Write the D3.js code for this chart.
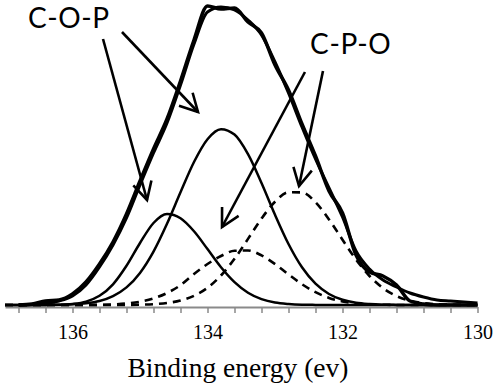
<!DOCTYPE html>
<html><head><meta charset="utf-8">
<script src="https://cdn.jsdelivr.net/npm/d3@7"></script>
<style>html,body{margin:0;padding:0;background:#fff;}svg{display:block;}
.serif{font-family:"Liberation Serif","DejaVu Serif","Times New Roman",Times,serif;}
.sans{font-family:Lato,"Open Sans","Noto Sans",sans-serif;}
</style>
</head><body>
<script>
// ---- data ----
const energy = [137.0,136.8,136.6,136.4,136.2,136.0,135.8,135.6,135.4,135.2,135.0,134.8,134.6,134.4,134.2,134.0,133.8,133.6,133.4,133.2,133.0,132.8,132.6,132.4,132.2,132.0,131.8,131.6,131.4,131.2,131.0,130.8,130.6,130.4,130.2,130.0];
const measured = [null,0,1,4,5,11,23,41,63,91,124,156,186,224,265,299,296,297,283,272,240,215,181,149,114,92,50,33,29,20,4,1,0,0,0,0];
const envelope = [null,0,0.5,1.5,4,9,20,38,60,87,120,152,182,220,261,293,298,295,285,270,243,212,178,146,117,88,54,36,25,18,12,8,5,4,3,2];
const copSmall = [0,0,0,0.1,0.3,1.1,3.4,9.2,20.7,39.2,62,82,91,86.7,73.7,55.9,37.8,22.9,12.3,5.9,2.5,1.0,0.3,0.1,0,0,0,0,0,0,0,0,0,0,0,0];
const copBig = [0,0,0,0.1,0.3,0.7,1.7,4.0,8.9,17.6,32.1,53.4,81.2,112.7,143,165.8,175.8,170.4,150.8,122,90.2,61,37.7,21.3,11,5.2,2.2,0.9,0.3,0.1,0,0,0,0,0,0];
const cpoSmall = [0,0,0,0,0,0,0,0.2,0.6,1.5,3.3,6.6,12,19.8,31,41,49,54.2,54.5,49.6,41,30.6,20.8,12.8,7.1,3.6,1.6,0.7,0.3,0,0,0,0,0,0,0];
const cpoBig = [0,0,0,0,0,0,0,0,0,0.1,0.3,0.8,2.0,4.5,9.2,17.2,29.5,46.2,66.1,86.4,103.3,112.8,112.6,102.7,85.6,65.3,45.5,29,16.9,9,4.3,1.9,0.8,0.3,0.1,0];
const majorTicks = [136,134,132,130];
const minorTicks = [136.8,136.4,136.0,135.6,135.2,134.8,134.4,134.0,133.6,133.2,132.8,132.4,132.0,131.6,131.2,130.8,130.4,130.0];
const labelNames = ["C-O-P","C-P-O"];
const labelPos = [[136.66,277],[132.48,251]];
// arrows: [fromEnergy, fromIntensity, toEnergy, toIntensity]
const arrows = [
  [135.548,266,134.896,105],
  [135.267,273,134.141,193],
  [132.556,233,133.785,78],
  [132.289,234,132.644,119]
];
const xTitle = "Binding energy (ev)";

// ---- chart ----
const W = 496, H = 386;
const svg = d3.select("body").append("svg").attr("width",W).attr("height",H);
const x = d3.scaleLinear().domain([137,130]).range([5,477.5]);
const y = d3.scaleLinear().domain([0,300]).range([305,5]);

// axis
const axis = d3.axisBottom(x).tickValues(minorTicks).tickSize(6).tickSizeOuter(0)
  .tickFormat(d => majorTicks.some(m => Math.abs(m-d)<1e-6) ? String(Math.round(d)) : "");
const gAxis = svg.append("g").attr("transform","translate(0,307)").call(axis).attr("font-family",null).attr("font-size",null);
gAxis.select(".domain").attr("stroke","#8a8a8a").attr("stroke-width",2);
gAxis.selectAll(".tick line").attr("stroke","#8a8a8a").attr("stroke-width",1.5);
gAxis.selectAll(".tick text").attr("class","serif").attr("fill","#000")
  .style("font-size","20px").attr("dy",null).attr("y",32);

svg.append("text").attr("class","serif").attr("x",238).attr("y",377).attr("text-anchor","middle")
  .style("font-size","27.5px").attr("fill","#000").text(xTitle);

function mk(arr){
  return d3.line().defined((d,i)=>arr[i]!==null).x((d,i)=>x(energy[i])).y((d,i)=>y(arr[i])).curve(d3.curveMonotoneX)(energy);
}
// components
[copSmall, copBig].forEach(a => svg.append("path").attr("d",mk(a)).attr("fill","none").attr("stroke","#000").attr("stroke-width",2.5));
[cpoSmall, cpoBig].forEach(a => svg.append("path").attr("d",mk(a)).attr("fill","none").attr("stroke","#000").attr("stroke-width",2.6).attr("stroke-dasharray","8,6"));
// envelope & measured
svg.append("path").attr("d",mk(envelope)).attr("fill","none").attr("stroke","#000").attr("stroke-width",3);
svg.append("path").attr("d",mk(measured)).attr("fill","none").attr("stroke","#000").attr("stroke-width",3.5);

// labels
labelNames.forEach((t,i)=>{
  svg.append("text").attr("class","sans").attr("x",x(labelPos[i][0])).attr("y",y(labelPos[i][1]))
    .style("font-size","28px").style("letter-spacing","0.6px").attr("fill","#000").text(t);
});
// arrows
arrows.forEach(a=>{
  const x1=x(a[0]), y1=y(a[1]), x2=x(a[2]), y2=y(a[3]);
  const g = svg.append("g").attr("stroke","#000").attr("stroke-width",2.6).attr("fill","none").attr("stroke-linecap","butt");
  g.append("line").attr("x1",x1).attr("y1",y1).attr("x2",x2).attr("y2",y2);
  const ang = Math.atan2(y1-y2, x1-x2), L = 20, s = 28*Math.PI/180;
  g.append("polyline").attr("points",[
    [x2+L*Math.cos(ang+s), y2+L*Math.sin(ang+s)],[x2,y2],[x2+L*Math.cos(ang-s), y2+L*Math.sin(ang-s)]
  ].map(p=>p.join(",")).join(" ")).attr("stroke-linejoin","miter");
});
</script>
</body></html>
